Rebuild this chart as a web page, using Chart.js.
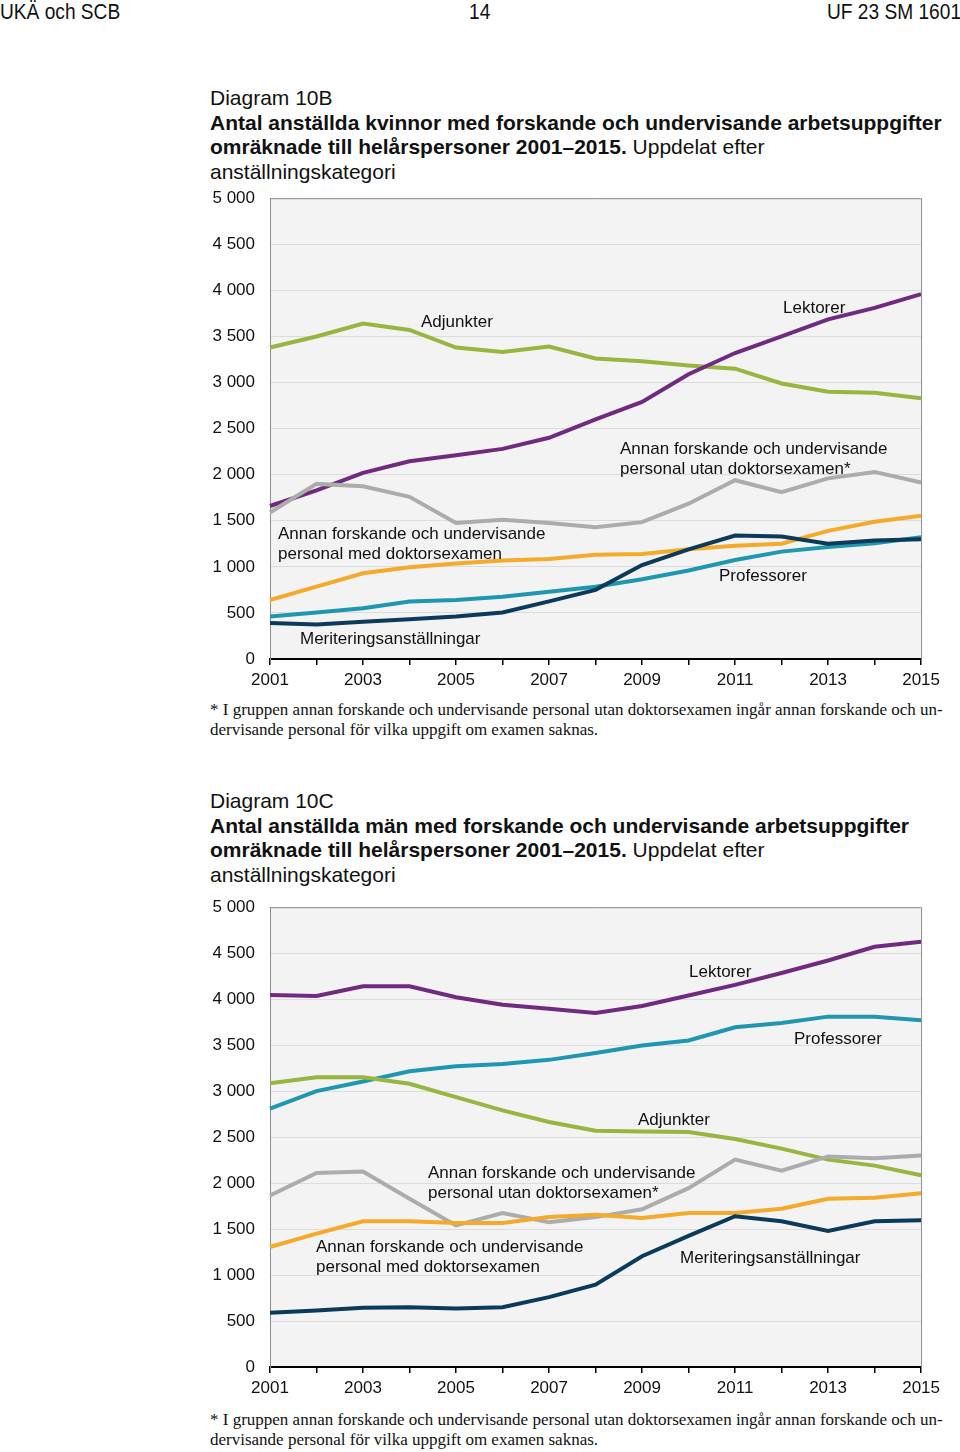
<!DOCTYPE html>
<html lang="sv">
<head>
<meta charset="utf-8">
<title>Diagram 10B och 10C</title>
<script src="https://cdn.jsdelivr.net/npm/chart.js@4"></script>
<style>
  html, body { margin: 0; padding: 0; background: #fff; }
  body { width: 960px; height: 1452px; position: relative; overflow: hidden;
         font-family: "Liberation Sans", Arial, sans-serif; color: #111; }
  .abs { position: absolute; white-space: nowrap; }
  .hdr { font-size: 22px; top: 0; line-height: 24px; transform: scaleX(0.87); transform-origin: left top; }
  .title { left: 210px; font-size: 21px; line-height: 24.6px; }
  .title b { font-weight: bold; }
  .lbl { font-size: 17px; line-height: 19.5px; }
  .note { left: 210px; width: 731px; font-family: "Liberation Serif", "Times New Roman", serif;
          font-size: 17px; line-height: 19.5px; }
  .note .j { text-align: justify; text-align-last: justify; }
  canvas { position: absolute; }
</style>
</head>
<body>
<div class="abs hdr" style="left:0">UKÄ och SCB</div>
<div class="abs hdr" style="left:469px">14</div>
<div class="abs hdr" style="left:827px">UF 23 SM 1601</div>

<div class="abs title" style="top:86px">Diagram 10B<br><b>Antal anställda kvinnor med forskande och undervisande arbetsuppgifter</b><br><b>omräknade till helårspersoner 2001–2015.</b> Uppdelat efter<br>anställningskategori</div>
<canvas id="chartK" width="745" height="522" style="left:200px;top:173px"></canvas>
<div class="abs lbl" style="left:421px;top:312px">Adjunkter</div>
<div class="abs lbl" style="left:783px;top:298px">Lektorer</div>
<div class="abs lbl" style="left:620px;top:439px">Annan forskande och undervisande<br>personal utan doktorsexamen*</div>
<div class="abs lbl" style="left:278px;top:524px">Annan forskande och undervisande<br>personal med doktorsexamen</div>
<div class="abs lbl" style="left:719px;top:566px">Professorer</div>
<div class="abs lbl" style="left:300px;top:629px">Meriteringsanställningar</div>
<div class="abs note" style="top:700px"><div class="j">* I gruppen annan forskande och undervisande personal utan doktorsexamen ingår annan forskande och un-</div><div>dervisande personal för vilka uppgift om examen saknas.</div></div>

<div class="abs title" style="top:789px">Diagram 10C<br><b>Antal anställda män med forskande och undervisande arbetsuppgifter</b><br><b>omräknade till helårspersoner 2001–2015.</b> Uppdelat efter<br>anställningskategori</div>
<canvas id="chartM" width="745" height="521" style="left:200px;top:882px"></canvas>
<div class="abs lbl" style="left:689px;top:962px">Lektorer</div>
<div class="abs lbl" style="left:794px;top:1029px">Professorer</div>
<div class="abs lbl" style="left:638px;top:1110px">Adjunkter</div>
<div class="abs lbl" style="left:428px;top:1163px">Annan forskande och undervisande<br>personal utan doktorsexamen*</div>
<div class="abs lbl" style="left:316px;top:1237px">Annan forskande och undervisande<br>personal med doktorsexamen</div>
<div class="abs lbl" style="left:680px;top:1248px">Meriteringsanställningar</div>
<div class="abs note" style="top:1410px"><div class="j">* I gruppen annan forskande och undervisande personal utan doktorsexamen ingår annan forskande och un-</div><div>dervisande personal för vilka uppgift om examen saknas.</div></div>

<script>
const years = ['2001', '2002', '2003', '2004', '2005', '2006', '2007', '2008',
  '2009', '2010', '2011', '2012', '2013', '2014', '2015'];

// Diagram 10B, kvinnor
const kLektorer = [1660, 1830, 2020, 2145, 2210, 2280, 2400, 2600, 2790, 3090, 3320, 3500, 3685, 3810, 3960];
const kAdjunkter = [3380, 3500, 3640, 3570, 3380, 3330, 3390, 3260, 3230, 3185, 3150, 2990, 2900, 2890, 2830];
const kUtanDr = [1590, 1900, 1875, 1760, 1475, 1510, 1475, 1430, 1485, 1685, 1940, 1810, 1960, 2030, 1915];
const kMedDr = [640, 785, 930, 995, 1035, 1070, 1085, 1130, 1140, 1190, 1230, 1250, 1390, 1490, 1555];
const kProfessorer = [460, 505, 550, 625, 640, 675, 730, 785, 865, 960, 1075, 1165, 1215, 1255, 1320];
const kMeritering = [390, 375, 405, 430, 460, 505, 625, 750, 1020, 1190, 1340, 1330, 1250, 1285, 1300];

// Diagram 10C, män
const mLektorer = [4045, 4035, 4140, 4140, 4020, 3940, 3895, 3850, 3925, 4040, 4155, 4285, 4420, 4570, 4625];
const mProfessorer = [2810, 3000, 3105, 3215, 3270, 3295, 3340, 3415, 3495, 3550, 3695, 3740, 3810, 3810, 3770];
const mAdjunkter = [3085, 3150, 3150, 3080, 2935, 2790, 2665, 2570, 2560, 2555, 2480, 2375, 2255, 2190, 2085];
const mUtanDr = [1865, 2110, 2125, 1830, 1540, 1675, 1575, 1630, 1715, 1945, 2255, 2135, 2290, 2270, 2300];
const mMedDr = [1305, 1450, 1585, 1585, 1565, 1565, 1630, 1655, 1620, 1675, 1675, 1720, 1830, 1840, 1890];
const mMeritering = [590, 615, 645, 650, 635, 650, 760, 895, 1205, 1425, 1640, 1585, 1480, 1585, 1595];

const yMin = 0;
const yMax = 5000;
const yStep = 500;

const colors = {
  lektorer: '#702a80',
  adjunkter: '#98b53f',
  utanDr: '#acacac',
  medDr: '#f4aa2b',
  professorer: '#1f97b0',
  meritering: '#0c3a5b',
};

function thousands(v) {
  return String(v).replace(/\B(?=(\d{3})+(?!\d))/g, ' ');
}

// grey plot background plus top/right frame
const plotFrame = {
  id: 'plotFrame',
  beforeDraw(chart) {
    const { ctx, chartArea: a } = chart;
    ctx.save();
    ctx.fillStyle = '#f3f3f3';
    ctx.fillRect(a.left, a.top, a.right - a.left, a.bottom - a.top);
    ctx.restore();
  },
  afterDatasetsDraw(chart) {
    const { ctx, chartArea: a } = chart;
    ctx.save();
    ctx.strokeStyle = '#8c8c8c';
    ctx.lineWidth = 1;
    ctx.beginPath();
    ctx.moveTo(a.left, a.top + 0.5);
    ctx.lineTo(a.right + 0.5, a.top + 0.5);
    ctx.lineTo(a.right + 0.5, a.bottom);
    ctx.stroke();
    ctx.restore();
  },
};

function line(data, color) {
  return {
    data,
    borderColor: color,
    backgroundColor: color,
    borderWidth: 4,
    pointRadius: 0,
    tension: 0,
    fill: false,
  };
}

function makeChart(id, series) {
  return new Chart(document.getElementById(id), {
    type: 'line',
    data: {
      labels: years,
      datasets: series.map((s) => line(s.data, s.color)),
    },
    options: {
      responsive: false,
      animation: false,
      devicePixelRatio: 1,
      layout: { padding: { top: 2, right: 23, left: 0, bottom: 0 } },
      plugins: { legend: { display: false }, tooltip: { enabled: false } },
      scales: {
        x: {
          offset: false,
          afterFit: (scale) => { scale.height = 36; },
          border: { color: '#000', width: 2 },
          grid: { drawOnChartArea: false, drawTicks: true, tickLength: 6, color: '#000', lineWidth: 1.5 },
          ticks: {
            autoSkip: false,
            maxRotation: 0,
            padding: 5,
            color: '#111',
            font: { family: 'Liberation Sans', size: 17 },
            callback: (v, i) => (i % 2 === 0 ? years[i] : ''),
          },
        },
        y: {
          min: yMin,
          max: yMax,
          afterFit: (scale) => { scale.width = 70; },
          border: { color: '#8c8c8c', width: 1 },
          grid: { color: '#dcdcdc', lineWidth: 1, drawTicks: false },
          ticks: {
            stepSize: yStep,
            padding: 15,
            color: '#111',
            font: { family: 'Liberation Sans', size: 17 },
            callback: (v) => thousands(v),
          },
        },
      },
    },
    plugins: [plotFrame],
  });
}

makeChart('chartK', [
  { data: kMeritering, color: colors.meritering },
  { data: kProfessorer, color: colors.professorer },
  { data: kMedDr, color: colors.medDr },
  { data: kUtanDr, color: colors.utanDr },
  { data: kLektorer, color: colors.lektorer },
  { data: kAdjunkter, color: colors.adjunkter },
]);

makeChart('chartM', [
  { data: mMeritering, color: colors.meritering },
  { data: mMedDr, color: colors.medDr },
  { data: mUtanDr, color: colors.utanDr },
  { data: mAdjunkter, color: colors.adjunkter },
  { data: mProfessorer, color: colors.professorer },
  { data: mLektorer, color: colors.lektorer },
]);
</script>
</body>
</html>
